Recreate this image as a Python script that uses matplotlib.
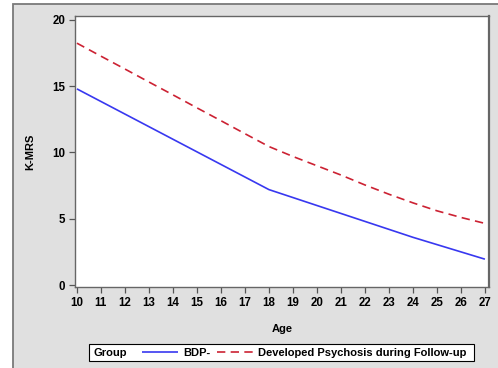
import numpy as np
import matplotlib
matplotlib.use("Agg")
import matplotlib.pyplot as plt
from matplotlib.patches import Rectangle

plt.rcParams['font.family'] = ['Liberation Sans', 'DejaVu Sans']
plt.rcParams['font.weight'] = 'bold'

# Estimated K-MRS trajectories by age
age = [10, 11, 12, 13, 14, 15, 16, 17, 18, 19, 20, 21, 22, 23, 24, 25, 26, 27]
bdp_neg = [14.8, 13.85, 12.9, 11.95, 11.0, 10.05, 9.1, 8.15, 7.2,
           6.6, 6.0, 5.4, 4.8, 4.2, 3.6, 3.05, 2.5, 1.95]
psychosis = [18.25, 17.27, 16.3, 15.32, 14.35, 13.37, 12.4, 11.42, 10.45,
             9.7, 9.0, 8.3, 7.55, 6.85, 6.2, 5.6, 5.1, 4.65]

group_labels = ['BDP-', 'Developed Psychosis during Follow-up']
y_ticks = [0, 5, 10, 15, 20]

W, H = 498, 368
fig = plt.figure(figsize=(W / 100, H / 100), dpi=100)
fig.patch.set_facecolor('white')

# grey graph panel, only its left and top borders fall inside the image
panel = Rectangle((13 / W, -0.1), 1.2, 1 - 4 / H + 0.1, transform=fig.transFigure,
                  facecolor='#e0e0e0', edgecolor='#7a7a7a', linewidth=1.3, zorder=-5)
fig.patches.append(panel)

ax = fig.add_axes([75 / W, 1 - 287 / H, (489 - 75) / W, (287 - 16) / H])
ax.set_facecolor('white')

l1, = ax.plot(age, bdp_neg, color='#3838f0', lw=1.2, solid_capstyle='butt')
l2, = ax.plot(age, psychosis, color='#cc2233', lw=1.2, dashes=(5, 3.2))

ax.set_xlim(9.92, 27.17)
ax.set_ylim(-0.15, 20.3)
ax.set_xticks(age)
ax.set_yticks(y_ticks)
ax.tick_params(direction='out', length=4, width=0.9, color='#555555',
               labelsize=8.3, pad=3)
for lab in ax.get_xticklabels() + ax.get_yticklabels():
    lab.set_fontweight('bold')
for s in ax.spines.values():
    s.set_color('#666666')
    s.set_linewidth(1.0)
ax.spines['right'].set_linewidth(1.6)

ax.set_xlabel('Age', fontsize=8, fontweight='bold', labelpad=11)
ax.set_ylabel('K-MRS', fontsize=8, fontweight='bold', labelpad=12)

# legend row: frame, "Group" caption, then the entries
leg_y = 1 - 352.5 / H
box = Rectangle((89 / W, 1 - 361 / H), (474 - 89) / W, 17 / H, transform=fig.transFigure,
                facecolor='white', edgecolor='black', linewidth=0.8, zorder=1)
fig.patches.append(box)
fig.text(94 / W, leg_y, 'Group', fontsize=8, fontweight='bold', va='center', ha='left')
leg = fig.legend([l1, l2], group_labels, ncol=2, frameon=False,
                 loc='center left', bbox_to_anchor=(142 / W, leg_y),
                 prop={'weight': 'bold', 'size': 8},
                 handlelength=3.25, handletextpad=0.45, columnspacing=0.6,
                 borderpad=0, borderaxespad=0)

fig.savefig('out.png', dpi=100)
